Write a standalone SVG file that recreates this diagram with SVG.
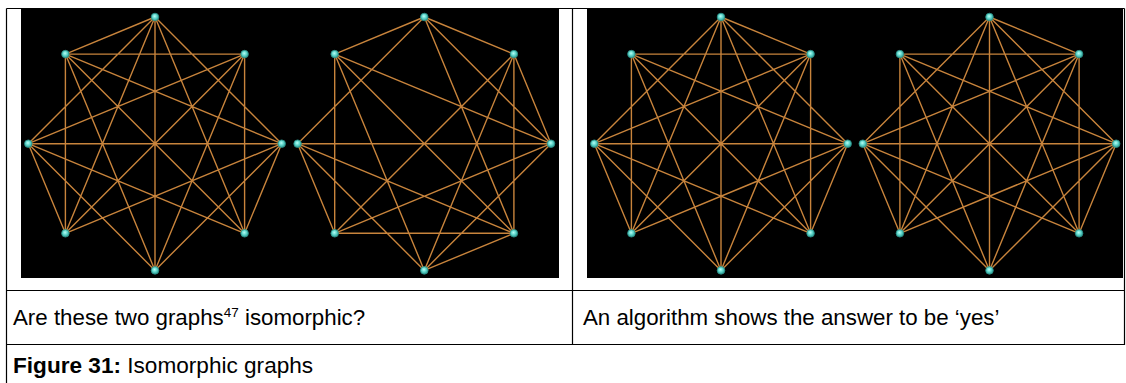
<svg xmlns="http://www.w3.org/2000/svg" width="1126" height="383" viewBox="0 0 1126 383">
<style>
.bg{fill:#000}
.e{stroke:#c8843c;stroke-width:1.4;fill:none}
.n{fill:url(#ng);stroke:#2a8f88;stroke-width:0.8}
.b{stroke:#000;stroke-width:1.2;fill:none}
.t{font-family:"Liberation Sans",Arial,sans-serif;font-size:22.3px;fill:#000}
.cap{font-family:"Liberation Sans",Arial,sans-serif;font-size:22.6px;fill:#000}
</style>
<defs>
<radialGradient id="ng" cx="45%" cy="40%" r="60%">
<stop offset="0" stop-color="#b8fff6"/>
<stop offset="0.5" stop-color="#5fd6cb"/>
<stop offset="1" stop-color="#2e9b92"/>
</radialGradient>
<circle id="nd" r="3.8" class="n"/>
</defs>
<rect width="1126" height="383" fill="#fff"/>
<g id="table">
<path class="b" d="M6.5 8.5H1124.5M6.5 8.5V383M572.5 8.5V345M1124.5 8.5V345M6.5 290.5H1124.5M6.5 344.5H1124.5"/>
</g>
<rect class="bg" x="21" y="8" width="538" height="270"/>
<rect class="bg" x="587" y="8" width="536" height="270"/>
<g id="connectors">
<g id="edges-g1" transform="translate(155,0)">
<path class="e" d="M0 17L-89.6 54.1M0 17L-126.7 143.7M0 17L-89.6 233.3M0 17L0 270.4M0 17L89.6 233.3M0 17L126.7 143.7M-89.6 54.1L89.6 54.1M-89.6 54.1L-89.6 233.3M-89.6 54.1L0 270.4M-89.6 54.1L89.6 233.3M-89.6 54.1L126.7 143.7M89.6 54.1L89.6 233.3M89.6 54.1L-126.7 143.7M89.6 54.1L-89.6 233.3M89.6 54.1L0 270.4M126.7 143.7L-126.7 143.7M126.7 143.7L89.6 233.3M126.7 143.7L0 270.4M126.7 143.7L-89.6 233.3M-126.7 143.7L89.6 233.3M-126.7 143.7L0 270.4M-126.7 143.7L-89.6 233.3"/>
</g>
<g id="edges-g2" transform="translate(424.3,0)">
<path class="e" d="M0 17L-89.6 54.1M0 17L89.6 54.1M0 17L-126.7 143.7M0 17L89.6 233.3M0 17L126.7 143.7M-89.6 54.1L-89.6 233.3M-89.6 54.1L0 270.4M-89.6 54.1L89.6 233.3M-89.6 54.1L126.7 143.7M89.6 54.1L89.6 233.3M89.6 54.1L126.7 143.7M89.6 54.1L-89.6 233.3M89.6 54.1L0 270.4M-126.7 143.7L126.7 143.7M-126.7 143.7L-89.6 233.3M-126.7 143.7L0 270.4M-126.7 143.7L89.6 233.3M126.7 143.7L-89.6 233.3M126.7 143.7L0 270.4M-89.6 233.3L89.6 233.3M89.6 233.3L0 270.4"/>
</g>
<g id="edges-g3" transform="translate(721,0)">
<path class="e" d="M0 17L89.6 54.1M0 17L126.7 143.7M0 17L89.6 233.3M0 17L0 270.4M0 17L-89.6 233.3M0 17L-126.7 143.7M89.6 54.1L-89.6 54.1M89.6 54.1L89.6 233.3M89.6 54.1L0 270.4M89.6 54.1L-89.6 233.3M89.6 54.1L-126.7 143.7M-89.6 54.1L-89.6 233.3M-89.6 54.1L126.7 143.7M-89.6 54.1L89.6 233.3M-89.6 54.1L0 270.4M-126.7 143.7L126.7 143.7M-126.7 143.7L-89.6 233.3M-126.7 143.7L0 270.4M-126.7 143.7L89.6 233.3M126.7 143.7L-89.6 233.3M126.7 143.7L0 270.4M126.7 143.7L89.6 233.3"/>
</g>
<g id="edges-g4" transform="translate(989.5,0)">
<path class="e" d="M0 17L89.6 54.1M0 17L126.7 143.7M0 17L89.6 233.3M0 17L0 270.4M0 17L-89.6 233.3M0 17L-126.7 143.7M89.6 54.1L-89.6 54.1M89.6 54.1L89.6 233.3M89.6 54.1L0 270.4M89.6 54.1L-89.6 233.3M89.6 54.1L-126.7 143.7M-89.6 54.1L-89.6 233.3M-89.6 54.1L126.7 143.7M-89.6 54.1L89.6 233.3M-89.6 54.1L0 270.4M-126.7 143.7L126.7 143.7M-126.7 143.7L-89.6 233.3M-126.7 143.7L0 270.4M-126.7 143.7L89.6 233.3M126.7 143.7L-89.6 233.3M126.7 143.7L0 270.4M126.7 143.7L89.6 233.3"/>
</g>
</g>
<g id="nodes-g1" transform="translate(155,0)">
<g id="g1-t"><use href="#nd" x="0" y="17"/></g>
<g id="g1-ur"><use href="#nd" x="89.6" y="54.1"/></g>
<g id="g1-r"><use href="#nd" x="126.7" y="143.7"/></g>
<g id="g1-lr"><use href="#nd" x="89.6" y="233.3"/></g>
<g id="g1-b"><use href="#nd" x="0" y="270.4"/></g>
<g id="g1-ll"><use href="#nd" x="-89.6" y="233.3"/></g>
<g id="g1-l"><use href="#nd" x="-126.7" y="143.7"/></g>
<g id="g1-ul"><use href="#nd" x="-89.6" y="54.1"/></g>
</g>
<g id="nodes-g2" transform="translate(424.3,0)">
<g id="g2-t"><use href="#nd" x="0" y="17"/></g>
<g id="g2-ur"><use href="#nd" x="89.6" y="54.1"/></g>
<g id="g2-r"><use href="#nd" x="126.7" y="143.7"/></g>
<g id="g2-lr"><use href="#nd" x="89.6" y="233.3"/></g>
<g id="g2-b"><use href="#nd" x="0" y="270.4"/></g>
<g id="g2-ll"><use href="#nd" x="-89.6" y="233.3"/></g>
<g id="g2-l"><use href="#nd" x="-126.7" y="143.7"/></g>
<g id="g2-ul"><use href="#nd" x="-89.6" y="54.1"/></g>
</g>
<g id="nodes-g3" transform="translate(721,0)">
<g id="g3-t"><use href="#nd" x="0" y="17"/></g>
<g id="g3-ur"><use href="#nd" x="89.6" y="54.1"/></g>
<g id="g3-r"><use href="#nd" x="126.7" y="143.7"/></g>
<g id="g3-lr"><use href="#nd" x="89.6" y="233.3"/></g>
<g id="g3-b"><use href="#nd" x="0" y="270.4"/></g>
<g id="g3-ll"><use href="#nd" x="-89.6" y="233.3"/></g>
<g id="g3-l"><use href="#nd" x="-126.7" y="143.7"/></g>
<g id="g3-ul"><use href="#nd" x="-89.6" y="54.1"/></g>
</g>
<g id="nodes-g4" transform="translate(989.5,0)">
<g id="g4-t"><use href="#nd" x="0" y="17"/></g>
<g id="g4-ur"><use href="#nd" x="89.6" y="54.1"/></g>
<g id="g4-r"><use href="#nd" x="126.7" y="143.7"/></g>
<g id="g4-lr"><use href="#nd" x="89.6" y="233.3"/></g>
<g id="g4-b"><use href="#nd" x="0" y="270.4"/></g>
<g id="g4-ll"><use href="#nd" x="-89.6" y="233.3"/></g>
<g id="g4-l"><use href="#nd" x="-126.7" y="143.7"/></g>
<g id="g4-ul"><use href="#nd" x="-89.6" y="54.1"/></g>
</g>
<g id="texts">
<text class="t" x="13" y="325">Are these two graphs<tspan font-size="13.5" dy="-8">47</tspan><tspan dy="8"> isomorphic?</tspan></text>
<text class="t" x="583" y="325">An algorithm shows the answer to be ‘yes’</text>
<text class="cap" x="13" y="373"><tspan font-weight="bold">Figure 31:</tspan> Isomorphic graphs</text>
</g>
</svg>
